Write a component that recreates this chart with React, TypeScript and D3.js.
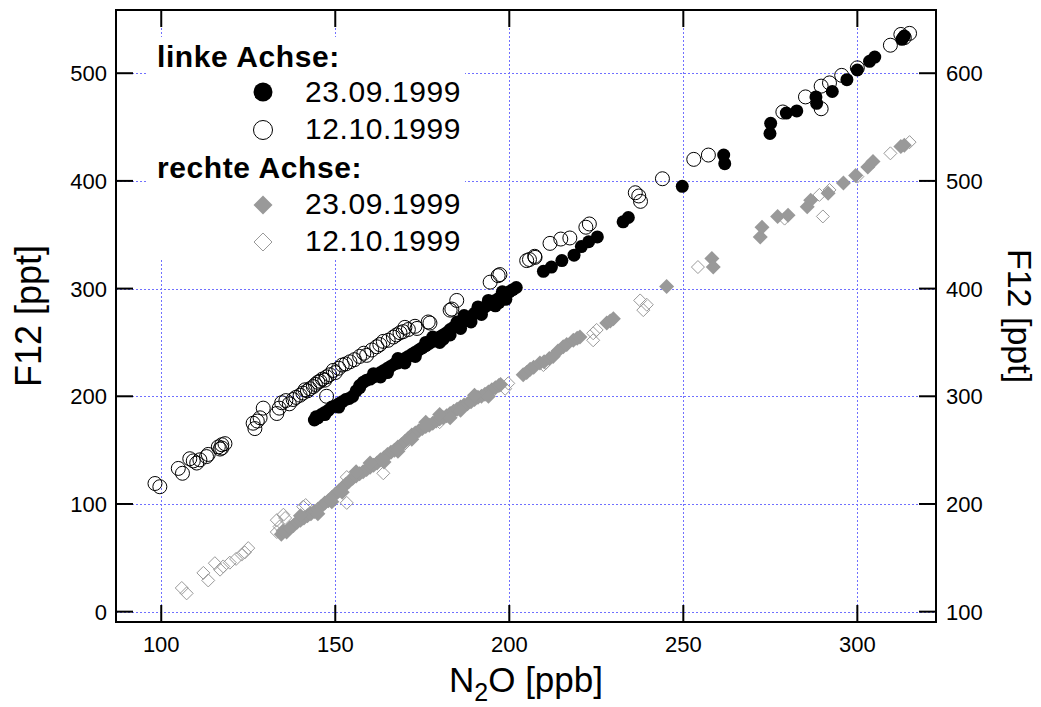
import React from "react";
import * as d3 from "d3";

// ---------- data ----------
const xTicks = [100, 150, 200, 250, 300];
const yLeftTicks = [0, 100, 200, 300, 400, 500];
const yRightTicks = [100, 200, 300, 400, 500, 600];

const legendHeadLeft = "linke Achse:";
const legendHeadRight = "rechte Achse:";
const date1 = "23.09.1999";
const date2 = "12.10.1999";

// left axis, 23.09.1999 (filled black circles): [N2O, F12]
const left0923: [number, number][] = [
  [144, 178], [144.5, 181], [145, 180], [146, 183], [147, 185], [148, 187], [149, 190], [150, 191],
  [151, 193], [152, 195], [153, 197], [154, 198], [155, 200], [156, 205], [157, 210], [158, 213],
  [159, 215], [160, 216], [161, 218], [162, 220], [163, 222], [164, 224], [165, 226], [166, 228],
  [167, 230], [168, 231], [169, 233], [170, 235], [171, 237], [172, 239], [173, 241], [174, 243],
  [175, 245], [176, 247], [177, 249], [178, 251], [179, 253], [180, 255], [181, 257], [182, 259],
  [183, 262], [184, 264], [185, 266], [186, 268], [187, 270], [188, 272], [189, 274], [190, 277],
  [191, 279], [192, 281], [193, 283], [194, 285], [195, 287], [196, 289], [197, 291], [198, 293],
  [199, 295], [200, 297], [201, 299], [202, 301],
  [157, 208], [163, 218], [170, 231], [176, 250], [181, 253], [186, 263], [191, 283], [197, 287], [185, 269],
  [178, 255], [180, 250], [183, 257], [187, 275], [189, 269], [192, 276], [194, 289], [196, 284],
  [198, 297], [199, 290], [173, 237], [168, 235], [165, 222], [161, 221], [151, 190], [147, 183],
  [209.8, 316], [212.1, 320], [215.1, 326], [218.6, 331], [220.7, 339], [222.8, 343.5], [225.3, 348],
  [232.7, 362], [234.2, 366], [249.7, 395], [261.6, 424], [261.9, 416], [274.9, 444], [275.1, 453.5],
  [279.6, 463], [282.6, 465], [288.1, 478], [288.3, 472], [292.8, 483], [297, 494], [300, 503],
  [303.5, 511], [305, 515], [312.8, 531.5], [313.5, 534.5],
];

// left axis, 12.10.1999 (open circles)
const left1210: [number, number][] = [
  [98.2, 119], [99.6, 116], [104.9, 133], [106.1, 128.5], [108.2, 142], [109.2, 140], [110.2, 138],
  [111.1, 141], [113, 144], [113.5, 146], [116.4, 153], [116.9, 151], [117.4, 155], [117.4, 152],
  [118.3, 156], [126.4, 175], [126.9, 170], [127.6, 177], [128.4, 180], [129.3, 189], [133.2, 184],
  [133.9, 189], [134.6, 194], [135.8, 196], [136.8, 193], [137.9, 197], [138.7, 199], [139.9, 201],
  [140.7, 203], [141.3, 206], [142, 205], [142.7, 207], [143.7, 209], [144.3, 211], [145, 213],
  [145.6, 214], [146.3, 216], [147, 215], [147.5, 218], [147.5, 200], [148.4, 220], [149.4, 224],
  [150, 222], [151, 226], [152, 229], [153, 230], [154.2, 232], [155.5, 234], [157, 237], [158.2, 240],
  [159, 238], [160.5, 243], [161.9, 246], [162.8, 248], [163.8, 251], [165.2, 252], [166.7, 255],
  [167.6, 257], [168.6, 259], [169.5, 260], [170, 264], [171, 262], [172.9, 265], [173.5, 263],
  [176.7, 269], [177.2, 268], [183, 280], [183.5, 281], [184.9, 289], [194.5, 306], [196.8, 312],
  [197.3, 313], [205, 326], [205.8, 327], [207.3, 330], [207.4, 329], [211.7, 342], [214.8, 346],
  [217.4, 347], [222, 357], [223, 360], [236.2, 389], [237.2, 386], [237.7, 381], [244, 402],
  [253, 420], [257.2, 424], [278.6, 464], [285.1, 478], [289.6, 488], [289.6, 467], [292, 491],
  [295.5, 498], [300, 505], [309.5, 526], [312.5, 536], [313.5, 533], [315, 537],
];

// right axis, 23.09.1999 (filled grey diamonds)
const right0923: [number, number][] = [
  [134.5, 172], [135, 175], [136, 174], [137, 178], [138, 180], [139, 183], [140, 185], [141, 187],
  [142, 189], [143, 191], [144, 193], [145, 195], [146, 198], [147, 201], [148, 203], [149, 206],
  [150, 209], [151, 212], [152, 215], [153, 218], [154, 221], [155, 224], [156, 226], [157, 228],
  [158, 230], [159, 232], [160, 234], [161, 236], [162, 238], [163, 241], [164, 243], [165, 246],
  [166, 248], [167, 250], [168, 253], [169, 255], [170, 258], [171, 261], [172, 264], [173, 266],
  [174, 268], [175, 270], [176, 272], [177, 273], [178, 275], [179, 277], [180, 279], [181, 280],
  [182, 282], [183, 284], [184, 286], [185, 288], [186, 290], [187, 292], [188, 293], [189, 295],
  [190, 297], [191, 299], [192, 300], [193, 302], [194, 304], [195, 306], [196, 308], [197, 310],
  [197.5, 311], [145, 191], [152, 211], [160, 238], [168, 249], [176, 276], [183, 280], [190, 301],
  [140, 189], [149, 202], [156, 230], [164, 239], [172, 260], [180, 283], [186, 287], [194, 300],
  [204, 320], [205, 322], [206, 325], [207, 327], [208.8, 331], [210, 332], [211.5, 335], [212.6, 337],
  [214, 342], [215.5, 346], [216.5, 348], [218.4, 352], [219.5, 354], [220.3, 355], [228, 368],
  [229, 370], [229.9, 372], [245.2, 402], [258.2, 428], [258.6, 420], [272.1, 448], [272.6, 457],
  [277.1, 467], [280.1, 468], [285.6, 476], [286.6, 482], [291.6, 488.5], [296, 498], [299.5, 505],
  [303, 513], [304.5, 518], [312.5, 532], [313.5, 533],
];

// right axis, 12.10.1999 (open grey diamonds)
const right1210: [number, number][] = [
  [105.9, 122], [107.3, 117], [112.1, 136], [113.5, 129], [115.4, 145], [116.9, 139], [117.8, 142],
  [119.7, 145.5], [121.5, 149], [123.1, 153], [124, 155], [125, 159], [133.2, 185], [133.2, 174],
  [134, 179], [135.1, 190], [135.6, 187], [140.8, 197.5], [141.5, 199], [153.3, 225], [153.3, 201],
  [163.8, 228.5], [170, 256], [180, 276], [198.8, 307], [199.7, 312], [209.8, 329], [210.5, 331],
  [224.1, 358.5], [225.1, 361.6], [224.1, 352], [237.6, 389], [239.5, 385], [238.5, 380], [254.2, 420],
  [279.1, 465], [289.1, 487], [290.1, 467], [292, 491.6], [300, 504], [309.5, 525.6], [315, 536],
];

const FONT = "'Liberation Sans', Arial, Helvetica, sans-serif";
const GREY = "#999999";
const GRID = "#7070ff";

const diamond = (r: number) => `M0,${-r}L${r},0L0,${r}L${-r},0Z`;

export default function App() {
  const W = 1041, H = 707;
  const L = 116, R = 936, T = 10, B = 622;
  const x = d3.scaleLinear().domain([87, 322.6]).range([L, R]);
  const yL = d3.scaleLinear().domain([-9.6, 558.7]).range([B, T]);
  const yR = d3.scaleLinear().domain([90.4, 658.7]).range([B, T]);
  const tick = 17;

  return (
    <svg width={W} height={H} style={{ position: "absolute", left: 0, top: 0, background: "#fff" }} fontFamily={FONT}>
      <rect x={0} y={0} width={W} height={H} fill="#fff" />
      {/* grid */}
      <g stroke={GRID} strokeWidth={1} strokeDasharray="2,2">
        {xTicks.map((t) => (
          <line key={"gx" + t} x1={Math.round(x(t)) + 0.5} x2={Math.round(x(t)) + 0.5} y1={B} y2={T} />
        ))}
        {yLeftTicks.map((t) => (
          <line key={"gy" + t} x1={L} x2={R} y1={Math.round(yL(t)) + 0.5} y2={Math.round(yL(t)) + 0.5} />
        ))}
      </g>
      {/* legend background */}
      <rect x={147} y={37} width={318} height={223} fill="#fff" />

      {/* data */}
      <g>
        {left0923.map((d, i) => (
          <circle key={"a" + i} cx={x(d[0])} cy={yL(d[1])} r={6.5} fill="#000" />
        ))}
        {left1210.map((d, i) => (
          <circle key={"b" + i} cx={x(d[0])} cy={yL(d[1])} r={7} fill="none" stroke="#000" strokeWidth={1} />
        ))}
        {right0923.map((d, i) => (
          <path key={"c" + i} transform={`translate(${x(d[0])},${yR(d[1])})`} d={diamond(7.5)} fill={GREY} />
        ))}
        {right1210.map((d, i) => (
          <path key={"d" + i} transform={`translate(${x(d[0])},${yR(d[1])})`} d={diamond(6.5)} fill="none" stroke={GREY} strokeWidth={1} />
        ))}
      </g>

      {/* ticks */}
      <g stroke="#000" strokeWidth={2}>
        {xTicks.map((t) => (
          <g key={"tx" + t}>
            <line x1={x(t)} x2={x(t)} y1={B} y2={B - tick} />
            <line x1={x(t)} x2={x(t)} y1={T} y2={T + tick} />
          </g>
        ))}
        {yLeftTicks.map((t) => (
          <line key={"tl" + t} x1={L} x2={L + tick} y1={yL(t)} y2={yL(t)} />
        ))}
        {yRightTicks.map((t) => (
          <line key={"tr" + t} x1={R} x2={R - tick} y1={yR(t)} y2={yR(t)} />
        ))}
      </g>
      {/* frame */}
      <rect x={L} y={T} width={R - L} height={B - T} fill="none" stroke="#000" strokeWidth={2} />

      {/* tick labels */}
      <g fontSize={22} fill="#000">
        {xTicks.map((t) => (
          <text key={"lx" + t} x={x(t)} y={652} textAnchor="middle">{t}</text>
        ))}
        {yLeftTicks.map((t) => (
          <text key={"ll" + t} x={107} y={yL(t) + 8} textAnchor="end">{t}</text>
        ))}
        {yRightTicks.map((t) => (
          <text key={"lr" + t} x={946} y={yR(t) + 8} textAnchor="start">{t}</text>
        ))}
      </g>

      {/* axis titles */}
      <text x={(L + R) / 2} y={692} textAnchor="middle" fontSize={35}>
        N<tspan fontSize={25} dy={9}>2</tspan><tspan dy={-9}>O [ppb]</tspan>
      </text>
      <text transform={`translate(41,${(T + B) / 2}) rotate(-90)`} textAnchor="middle" fontSize={36}>F12 [ppt]</text>
      <text transform={`translate(1008,${(T + B) / 2}) rotate(90)`} textAnchor="middle" fontSize={34}>F12 [ppt]</text>

      {/* legend */}
      <g fill="#000">
        <text x={157} y={67} fontSize={30} fontWeight="bold" letterSpacing={0.6}>{legendHeadLeft}</text>
        <circle cx={263} cy={92} r={9.5} fill="#000" />
        <text x={305} y={102} fontSize={30} letterSpacing={0.6}>{date1}</text>
        <circle cx={263} cy={130} r={9.5} fill="none" stroke="#000" strokeWidth={1} />
        <text x={305} y={139} fontSize={30} letterSpacing={0.6}>{date2}</text>
        <text x={157} y={178} fontSize={30} fontWeight="bold" letterSpacing={0.6}>{legendHeadRight}</text>
        <path transform="translate(263,205)" d={diamond(9.5)} fill={GREY} />
        <text x={305} y={214} fontSize={30} letterSpacing={0.6}>{date1}</text>
        <path transform="translate(263,242)" d={diamond(9)} fill="none" stroke={GREY} strokeWidth={1} />
        <text x={305} y={251} fontSize={30} letterSpacing={0.6}>{date2}</text>
      </g>
    </svg>
  );
}
